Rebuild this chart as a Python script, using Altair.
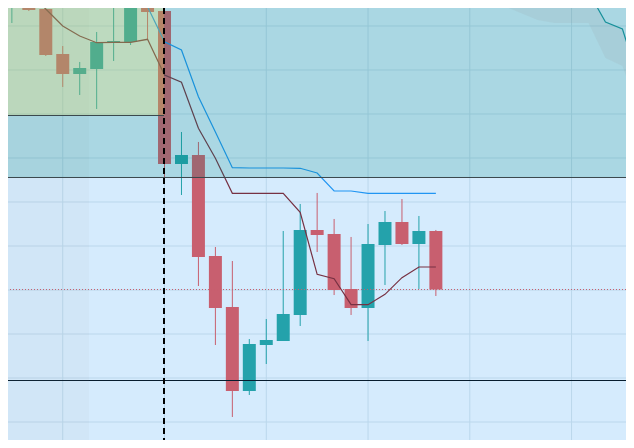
import altair as alt
import pandas as pd

# ---- data (price units; x = bar index) ----
idx = list(range(26))
opens = [195.23, 196.82, 193.86, 183.64, 179.09, 180.23, 186.14, 186.36, 196.82, 193.41,
         158.64, 160.68, 137.73, 126.14, 107.05, 117.5, 118.41, 124.32, 143.64, 142.73,
         130.23, 125.91, 140.23, 145.45, 140.45, 143.41]
closes = [196.82, 193.64, 183.41, 179.09, 180.45, 186.36, 186.59, 196.82, 193.18, 158.64,
          160.68, 137.5, 125.91, 107.05, 117.73, 118.64, 124.55, 143.64, 142.5, 130.0,
          125.91, 140.45, 145.45, 140.45, 143.41, 130.11]
highs = [197.27, 197.27, 193.86, 185.45, 181.82, 188.64, 194.09, 197.27, 197.27, 193.41,
         165.91, 163.64, 139.77, 136.59, 118.86, 123.41, 143.41, 149.55, 152.05, 146.14,
         142.05, 145.0, 147.95, 150.68, 146.82, 143.64]
lows = [190.68, 193.41, 183.18, 176.14, 174.32, 171.14, 182.05, 185.68, 187.05, 155.45,
        151.59, 130.91, 117.5, 101.14, 106.14, 113.18, 118.41, 121.82, 138.64, 128.86,
        124.32, 118.41, 131.14, 140.23, 130.23, 128.64]

blue_idx = list(range(5, 26))
blue_vals = [196.14, 195.16, 194.77, 194.39, 186.43, 184.55, 173.93, 165.91, 157.8, 157.73,
             157.73, 157.73, 157.66, 156.59, 152.5, 152.5, 151.98, 151.98, 151.98, 151.98, 151.98]

ma_idx = list(range(1, 26))
ma_vals = [197.59, 193.86, 190.0, 187.73, 186.2, 186.3, 186.3, 186.98, 178.86, 177.2,
           166.75, 159.93, 151.98, 151.98, 151.98, 151.98, 147.66, 133.57, 132.57, 126.66,
           126.66, 129.02, 132.8, 135.23, 135.23]

cloud_idx = list(range(28, 38))
cloud_upper = [205, 205, 205, 205, 205, 205, 197.73, 190.91, 189.32, 177.05]
cloud_lower = [197.27, 194.55, 192.95, 191.36, 190.68, 190.68, 190.68, 182.73, 180.91, 170.23]

teal_idx = [33, 34, 35, 36, 37]
teal_vals = [205, 197.73, 190.91, 189.32, 177.05]

grid_x = [3, 9, 15, 21, 27, 33]
grid_y = [100, 110, 120, 130, 140, 150, 160, 170, 180, 190]

zone_green_bottom = 169.66
zone_upper_bottom = 155.57
support_level = 109.43
split_idx = 8.97
strip_idx = 4.55

X_DOM = [-0.228, 36.21]
Y_DOM = [95.91, 194.09]
HALF = 0.383

xs = alt.Scale(domain=X_DOM, nice=False, zero=False)
ys = alt.Scale(domain=Y_DOM, nice=False, zero=False)

candles = pd.DataFrame({"i": idx, "open": opens, "close": closes, "high": highs, "low": lows})
candles["dir"] = ["up" if c >= o else "down" for o, c in zip(opens, closes)]
candles["xl"] = candles["i"] - HALF
candles["xr"] = candles["i"] + HALF

col = alt.Color("dir:N", scale=alt.Scale(domain=["up", "down"], range=["#26A69A", "#EF5350"]), legend=None)

def X(f):
    return alt.X(f, scale=xs, axis=None)

def Y(f):
    return alt.Y(f, scale=ys, axis=None)

gx = alt.Chart(pd.DataFrame({"g": grid_x})).mark_rule(color="#dfe7ea", strokeWidth=1, clip=True).encode(x=X("g:Q"))
gy = alt.Chart(pd.DataFrame({"g": grid_y})).mark_rule(color="#dfe7ea", strokeWidth=1, clip=True).encode(y=Y("g:Q"))

base = alt.Chart(candles)
wick = base.mark_rule(strokeWidth=1, clip=True).encode(x=X("i:Q"), y=Y("low:Q"), y2="high:Q", color=col)
body = base.mark_rect(clip=True).encode(x=X("xl:Q"), x2="xr:Q", y=Y("open:Q"), y2="close:Q", color=col)

blue = alt.Chart(pd.DataFrame({"i": blue_idx, "v": blue_vals})).mark_line(
    color="#2196F3", strokeWidth=1.2, clip=True).encode(x=X("i:Q"), y=Y("v:Q"))
ma = alt.Chart(pd.DataFrame({"i": ma_idx, "v": ma_vals})).mark_line(
    color="#8B1A1A", strokeWidth=1.2, clip=True).encode(x=X("i:Q"), y=Y("v:Q"))

last = alt.Chart(pd.DataFrame({"v": [closes[-1]]})).mark_rule(
    color="#EF5350", strokeDash=[1, 2], strokeWidth=1, clip=True).encode(y=Y("v:Q"))
support = alt.Chart(pd.DataFrame({"v": [support_level]})).mark_rule(
    color="black", strokeWidth=1, clip=True).encode(y=Y("v:Q"))

def zone(x0, x1, y0, y1, color, op):
    d = pd.DataFrame({"x0": [x0], "x1": [x1], "y0": [y0], "y1": [y1]})
    return alt.Chart(d).mark_rect(color=color, opacity=op, clip=True).encode(
        x=X("x0:Q"), x2="x1:Q", y=Y("y0:Q"), y2="y1:Q")

ov_blue = zone(-5, 45, 80, 210, "#2196F3", 0.19)
ov_strip = zone(-5, strip_idx, 80, 210, "#9598A1", 0.06)
ov_teal = zone(-5, 45, zone_upper_bottom, 210, "#00897B", 0.2)
ov_yellow = zone(-5, split_idx, zone_green_bottom, 210, "rgb(250,229,79)", 0.24)

cloud = alt.Chart(pd.DataFrame({"i": cloud_idx, "u": cloud_upper, "l": cloud_lower})).mark_area(
    color="#969696", opacity=0.12, clip=True).encode(x=X("i:Q"), y=Y("u:Q"), y2="l:Q")
teal = alt.Chart(pd.DataFrame({"i": teal_idx, "v": teal_vals})).mark_line(
    color="#16909a", strokeWidth=1.2, clip=True).encode(x=X("i:Q"), y=Y("v:Q"))

line_a = alt.Chart(pd.DataFrame({"x0": [-5], "x1": [split_idx], "v": [zone_green_bottom]})).mark_rule(
    color="#3a474c", strokeWidth=1, clip=True).encode(x=X("x0:Q"), x2="x1:Q", y=Y("v:Q"))
line_b = alt.Chart(pd.DataFrame({"v": [zone_upper_bottom]})).mark_rule(
    color="#3a474c", strokeWidth=1, clip=True).encode(y=Y("v:Q"))
dashed = alt.Chart(pd.DataFrame({"i": [split_idx]})).mark_rule(
    color="black", strokeDash=[6, 4], strokeWidth=2, clip=True).encode(x=X("i:Q"))

chart = alt.layer(
    gx, gy, wick, body, blue, ma, last, support,
    ov_blue, ov_strip, ov_teal, ov_yellow, cloud, teal, line_a, line_b, dashed
).properties(width=618, height=432, padding=0, background="white").configure_view(stroke=None)

chart.save("out.html", embed_options={"renderer": "svg", "actions": False})
